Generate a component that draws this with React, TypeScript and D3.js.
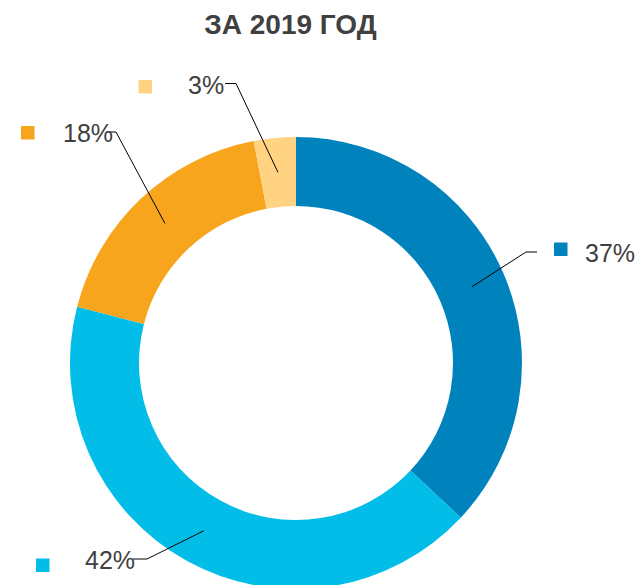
import React from "react";
import * as d3 from "d3";

const categories = ["A", "B", "C", "D"];
const values = [37, 42, 18, 3];
const labels = ["37%", "42%", "18%", "3%"];
const colors = ["#0083BD", "#02BDE7", "#F8A51E", "#FFD382"];
const title = "ЗА 2019 ГОД";

// label layout (text start, baseline, marker box, elbow, line end)
const labelLayout = [
  { tx: 585, ty: 262, mx: 554, my: 242.5, ex: 526, lx: 537 },
  { tx: 85, ty: 569, mx: 36, my: 558.5, ex: 147, lx: 133 },
  { tx: 63, ty: 142, mx: 21, my: 126, ex: 116, lx: 107 },
  { tx: 188, ty: 93.5, mx: 138.5, my: 80, ex: 236, lx: 225 },
];

const W = 641;
const H = 585;
const cx = 296;
const cy = 363;
const R = 226;
const r = 157;

export default function App() {
  const pie = d3
    .pie<number>()
    .sort(null)
    .value((d) => d)(values);
  const arc = d3.arc<d3.PieArcDatum<number>>().innerRadius(r).outerRadius(R);
  const font = "'Liberation Sans', Arial, sans-serif";
  return (
    <svg
      width={W}
      height={H}
      style={{ position: "fixed", left: 0, top: 0, display: "block", background: "#fff" }}
      fontFamily={font}
    >
      <text x={290.5} y={33.5} textAnchor="middle" fontSize={28} fontWeight="bold" fill="#404040">
        {title}
      </text>
      <g transform={`translate(${cx},${cy})`}>
        {pie.map((p, i) => (
          <path key={categories[i]} d={arc(p) || ""} fill={colors[i]} />
        ))}
      </g>
      {pie.map((p, i) => {
        const [px, py] = arc.centroid(p);
        const L = labelLayout[i];
        const ey = L.ty - 10;
        return (
          <g key={"l" + i}>
            <polyline
              points={`${cx + px},${cy + py} ${L.ex},${ey} ${L.lx},${ey}`}
              fill="none"
              stroke="#000"
              strokeWidth={1}
            />
            <rect x={L.mx} y={L.my} width={13.5} height={13.5} fill={colors[i]} />
            <text x={L.tx} y={L.ty} fontSize={25} fill="#404040">
              {labels[i]}
            </text>
          </g>
        );
      })}
    </svg>
  );
}
